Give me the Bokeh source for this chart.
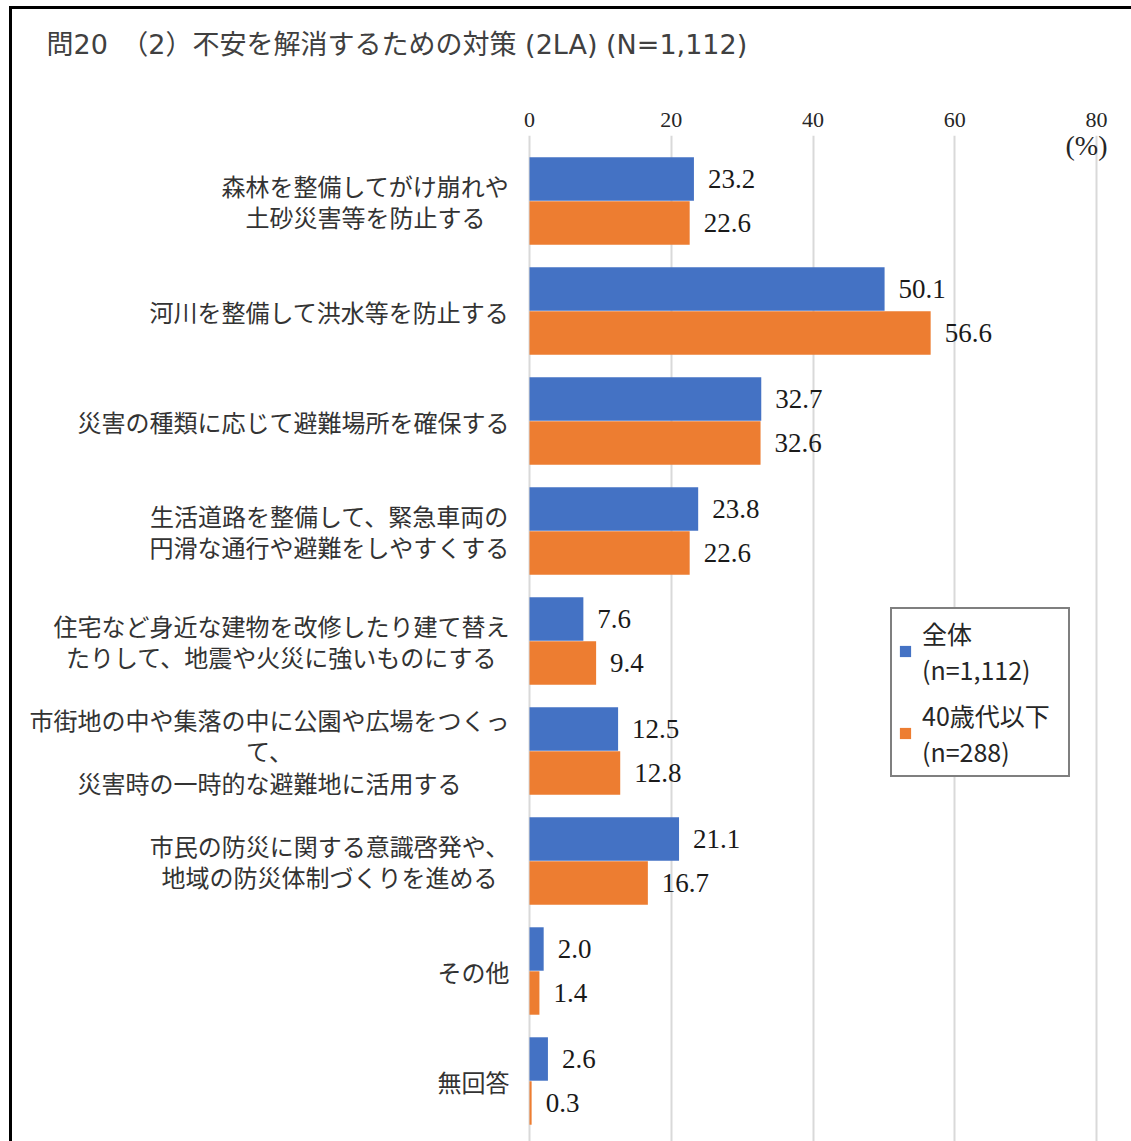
from bokeh.plotting import figure
from bokeh.layouts import column
from bokeh.models import Range1d, FixedTicker, ColumnDataSource, Legend, LegendItem
from bokeh.embed import file_html
from bokeh.resources import INLINE
from bokeh.core.properties import value

# ---------------- data ----------------
title_text = "問20　（2）不安を解消するための対策 (2LA) (N=1,112)"
categories = [
    "森林を整備してがけ崩れや\n土砂災害等を防止する",
    "河川を整備して洪水等を防止する",
    "災害の種類に応じて避難場所を確保する",
    "生活道路を整備して、緊急車両の\n円滑な通行や避難をしやすくする",
    "住宅など身近な建物を改修したり建て替え\nたりして、地震や火災に強いものにする",
    "市街地の中や集落の中に公園や広場をつくっ\nて、\n災害時の一時的な避難地に活用する",
    "市民の防災に関する意識啓発や、\n地域の防災体制づくりを進める",
    "その他",
    "無回答",
]
all_values = [23.2, 50.1, 32.7, 23.8, 7.6, 12.5, 21.1, 2.0, 2.6]
young_values = [22.6, 56.6, 32.6, 22.6, 9.4, 12.8, 16.7, 1.4, 0.3]
series_names = ["全体\n(n=1,112)", "40歳代以下\n(n=288)"]
x_ticks = [0, 20, 40, 60, 80]
unit_label = "(%)"

# ---------------- styles / layout ----------------
BLUE = "#4472C4"
ORANGE = "#ED7D31"
W = 1119
TITLE_H = 60
H = 1132 - TITLE_H
MB_TOP = 66
PX_PER_UNIT = 7.0875      # horizontal scale
ZERO_PX = 517             # position of the value axis origin inside the figure
BAND_PX = 110             # distance between category centres
FIRST_CENTER = 65.5       # first category centre below frame top (px)
CJK = "Noto Sans CJK JP"
SERIF = "Liberation Serif"

x_start = -ZERO_PX / PX_PER_UNIT
x_end = (W - ZERO_PX) / PX_PER_UNIT
y_top = -FIRST_CENTER / BAND_PX
y_bottom = (H - MB_TOP - FIRST_CENTER) / BAND_PX

# ---------------- title strip ----------------
tfig = figure(width=W, height=TITLE_H, output_backend="svg", toolbar_location=None,
              x_range=Range1d(0, W), y_range=Range1d(TITLE_H, 0),
              x_axis_location=None, y_axis_location=None, min_border=0)
tfig.outline_line_color = None
tfig.xgrid.visible = False
tfig.ygrid.visible = False
tfig.text(x=[34], y=[35], text=[title_text], text_align="left", text_baseline="middle",
          text_font=value("DejaVu Sans, Noto Sans CJK JP"), text_font_size="27px",
          text_color="#404040")

# ---------------- main chart ----------------
pos = list(range(len(categories)))
src_all = ColumnDataSource(dict(y=[q - 0.2 for q in pos], v=all_values,
                                t=[f"{v:.1f}" for v in all_values]))
src_young = ColumnDataSource(dict(y=[q + 0.2 for q in pos], v=young_values,
                                  t=[f"{v:.1f}" for v in young_values]))

FS = 24
cat_offsets = [-20 - max(len(s) for s in c.split("\n")) * FS / 2 for c in categories]
src_cat = ColumnDataSource(dict(x=[0] * len(categories), y=pos, t=categories,
                                xo=cat_offsets))

p = figure(width=W, height=H, output_backend="svg", toolbar_location=None,
           x_range=Range1d(x_start, x_end), y_range=Range1d(y_bottom, y_top),
           x_axis_location="above", y_axis_location=None,
           min_border_left=0, min_border_right=0,
           min_border_top=MB_TOP, min_border_bottom=0)
p.outline_line_color = None
p.background_fill_color = "white"
p.border_fill_color = "white"

p.xaxis.ticker = FixedTicker(ticks=x_ticks)
p.xaxis.axis_line_color = None
p.xaxis.major_tick_line_color = None
p.xaxis.minor_tick_line_color = None
p.xaxis.major_label_text_font = SERIF
p.xaxis.major_label_text_font_size = "22px"
p.xaxis.major_label_text_color = "#262626"
p.xaxis.major_label_standoff = 3

p.xgrid.ticker = FixedTicker(ticks=x_ticks)
p.xgrid.grid_line_color = "#d9d9d9"
p.xgrid.grid_line_width = 2
p.ygrid.visible = False

r1 = p.hbar(y="y", right="v", left=0, height=0.395, source=src_all,
            fill_color=BLUE, line_color=None)
r2 = p.hbar(y="y", right="v", left=0, height=0.395, source=src_young,
            fill_color=ORANGE, line_color=None)

for src in (src_all, src_young):
    p.text(x="v", y="y", text="t", source=src, x_offset=14,
           text_baseline="middle", text_align="left",
           text_font=value(SERIF), text_font_size="27px", text_color="#1a1a1a")

# category labels: centered multi-line blocks to the left of the value axis
p.text(x="x", y="y", text="t", x_offset="xo", source=src_cat,
       text_align="center", text_baseline="middle",
       text_font=value(CJK), text_font_size=f"{FS}px",
       text_line_height=0.89, text_color="#333333")

# unit label under the last tick
p.text(x=[x_ticks[-1]], y=[y_top], text=[unit_label], x_offset=-10, y_offset=10,
       text_align="center", text_baseline="middle",
       text_font=value(SERIF), text_font_size="28px", text_color="#262626")

legend = Legend(items=[LegendItem(label=series_names[0], renderers=[r1]),
                       LegendItem(label=series_names[1], renderers=[r2])],
                location=(878, 364), orientation="vertical")
legend.border_line_color = "black"
legend.border_line_width = 2
legend.background_fill_color = "white"
legend.background_fill_alpha = 1
legend.label_text_font = CJK
legend.label_text_font_size = "25px"
legend.label_text_color = "#262626"
legend.label_width = 140
legend.glyph_width = 14
legend.glyph_height = 14
legend.label_standoff = 10
legend.padding = 6
legend.spacing = 10
legend.margin = 0
p.add_layout(legend, "center")

layout = column(tfig, p, spacing=0,
                styles={"border-left": "3px solid black", "border-top": "3px solid black",
                        "margin-left": "9px", "margin-top": "6px"})

open("out.html", "w").write(file_html(layout, INLINE))
